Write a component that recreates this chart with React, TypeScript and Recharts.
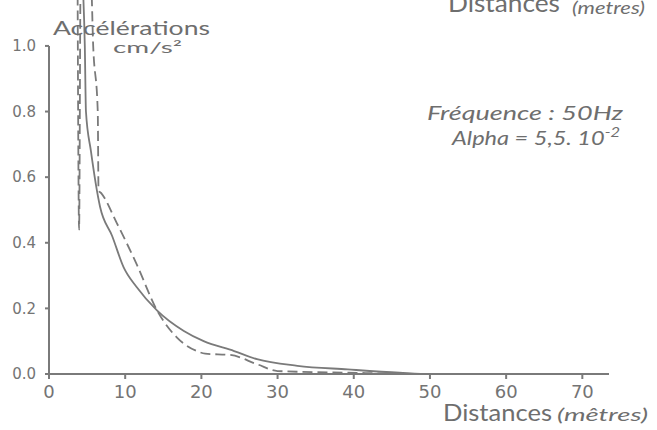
import { Line, LineChart, ReferenceLine, XAxis, YAxis } from "recharts"

// distances in metres, accelerations in cm/s2
const solidX = [4.4, 4.7, 4.85, 5.5, 6.7, 8.3, 9.8, 11.5, 14.2, 17.7, 20.3, 24.3, 27.3, 32.6, 39.2, 46, 50, 60, 70]
const solidY = [1.2, 1.0, 0.8, 0.68, 0.51, 0.42, 0.325, 0.265, 0.193, 0.131, 0.1, 0.07, 0.045, 0.025, 0.014, 0.004, 0, 0, 0]

const dashedX = [3.75, 3.95, 4.15, 5.5, 5.8, 6.4, 6.5, 6.9, 8.9, 11.5, 14.2, 16.8, 19.4, 20.5, 23.8, 27.3, 30, 39.2, 50, 70]
const dashedY = [1.2, 0.44, 1.2, 1.2, 1.0, 0.8, 0.56, 0.55, 0.46, 0.335, 0.193, 0.111, 0.07, 0.062, 0.058, 0.03, 0.009, 0.004, 0, 0]

const xTicks = [0, 10, 20, 30, 40, 50, 60, 70]
const yTicks = [0, 0.2, 0.4, 0.6, 0.8, 1.0]

const solidData = solidX.map((x, i) => ({ x, y: solidY[i] }))
const dashedData = dashedX.map((x, i) => ({ x, y: dashedY[i] }))

const ink = "#7a7a7a"
const font = "Lato, 'DejaVu Sans', sans-serif"
const tickFont = "'DejaVu Sans', sans-serif"

export default function App() {
    return (
        <div style={{ position: "absolute", left: 0, top: 0, width: 657, height: 430, background: "#fff" }}>
            <LineChart width={657} height={430} margin={{ top: 0, right: 48, bottom: 0, left: 0 }}>
                <XAxis
                    type="number"
                    dataKey="x"
                    domain={[0, 73.5]}
                    ticks={xTicks}
                    height={56}
                    tickSize={5}
                    tickMargin={6}
                    stroke={ink}
                    strokeWidth={2}
                    fontSize={18}
                    tick={{ fill: "#747474", fontSize: 18, fontFamily: tickFont }}
                    tickFormatter={(v) => String(v)}
                />
                <YAxis
                    type="number"
                    dataKey="y"
                    domain={[0, 1.14]}
                    allowDataOverflow
                    ticks={yTicks}
                    width={49}
                    axisLine={false}
                    tickSize={4}
                    tickMargin={9}
                    stroke={ink}
                    strokeWidth={2}
                    fontSize={15}
                    tick={{ fill: "#747474", fontSize: 15, fontFamily: tickFont }}
                    tickFormatter={(v) => v.toFixed(1)}
                />
                <ReferenceLine segment={[{ x: 0, y: 0 }, { x: 0, y: 1.0 }]} stroke={ink} strokeWidth={2} />
                <Line
                    data={solidData}
                    dataKey="y"
                    type="monotone"
                    stroke={ink}
                    strokeWidth={1.8}
                    dot={false}
                    isAnimationActive={false}
                />
                <Line
                    data={dashedData}
                    dataKey="y"
                    type="monotone"
                    stroke={ink}
                    strokeWidth={1.8}
                    strokeDasharray="10 5"
                    dot={false}
                    isAnimationActive={false}
                />
            </LineChart>
            <svg
                width={657}
                height={430}
                style={{ position: "absolute", left: 0, top: 0, pointerEvents: "none" }}
                fontFamily={font}
                fill="#6e6e6e"
            >
                <text x={53} y={35} fontSize={19} textLength={157} lengthAdjust="spacingAndGlyphs">Accélérations</text>
                <text x={113} y={53} fontSize={15} textLength={69} lengthAdjust="spacingAndGlyphs">cm/s²</text>
                <text x={448} y={12} fontSize={25} textLength={112} lengthAdjust="spacingAndGlyphs">Distances</text>
                <text x={572} y={14} fontSize={17} fontStyle="italic" textLength={73} lengthAdjust="spacingAndGlyphs">(metres)</text>
                <text x={427} y={120} fontSize={20} fontStyle="italic" textLength={196} lengthAdjust="spacingAndGlyphs">Fréquence : 50Hz</text>
                <text x={452} y={145} fontSize={20} fontStyle="italic" textLength={168} lengthAdjust="spacingAndGlyphs">
                    Alpha = 5,5. 10<tspan dy={-8} fontSize={14}>-2</tspan>
                </text>
                <text x={443} y={421} fontSize={24} textLength={109} lengthAdjust="spacingAndGlyphs">Distances</text>
                <text x={557} y={421} fontSize={18} fontStyle="italic" textLength={91} lengthAdjust="spacingAndGlyphs">(mêtres)</text>
            </svg>
        </div>
    )
}
